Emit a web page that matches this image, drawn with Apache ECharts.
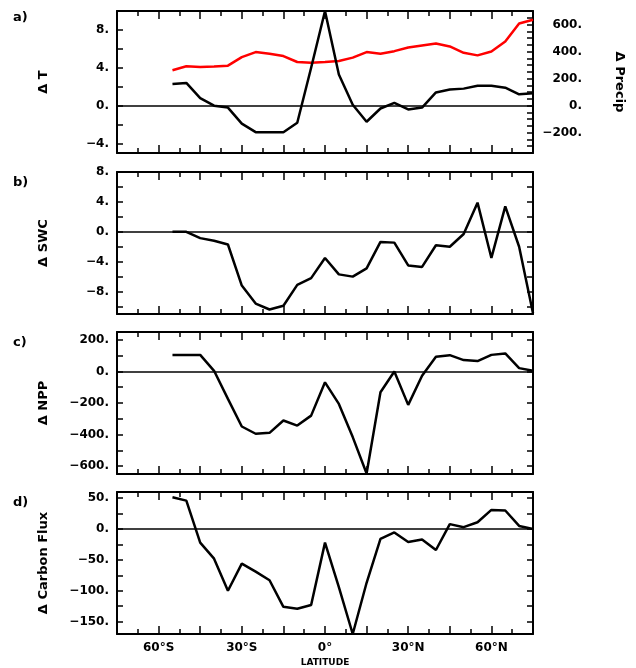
<!DOCTYPE html>
<html>
<head>
<meta charset="utf-8">
<script src="https://cdn.jsdelivr.net/npm/echarts@6/dist/echarts.min.js"></script>
<style>html,body{margin:0;padding:0;background:#fff}#main{width:636px;height:668px}</style>
</head>
<body>
<div id="main"></div>
<script>
// latitude of each point (deg, S negative)
var lat = [-55,-50,-45,-40,-35,-30,-25,-20,-15,-10,-5,0,5,10,15,20,25,30,35,40,45,50,55,60,65,70,75];
// a) temperature and precipitation change
var dT = [2.3,2.4,0.8,0.0,-0.2,-1.9,-2.8,-2.8,-2.8,-1.8,4.0,10.0,3.3,0.1,-1.7,-0.3,0.3,-0.4,-0.2,1.4,1.7,1.8,2.1,2.1,1.9,1.2,1.3];
var dPrecip = [262,291,286,289,296,359,396,384,367,323,318,323,330,355,396,384,403,430,445,460,438,391,372,401,474,608,635];
// b) soil water content
var dSWC = [0.0,0.0,-0.85,-1.2,-1.7,-7.2,-9.6,-10.4,-9.9,-7.1,-6.2,-3.5,-5.7,-6.0,-4.9,-1.35,-1.45,-4.5,-4.7,-1.8,-2.0,-0.3,3.9,-3.5,3.4,-2.0,-10.9];
// c) net primary production
var dNPP = [105,105,105,4,-174,-349,-395,-389,-311,-343,-280,-69,-206,-416,-647,-132,0,-212,-27,93,103,72,66,105,114,21,4];
// d) carbon flux
var dCarbon = [51.5,46,-22,-48,-100,-56,-69,-83,-126,-129,-123,-22,-94,-170,-87,-16,-5.5,-21,-17,-34,8,3,11,31,30,5,0];

// y axis ranges, tick and label values
var yRange = [[-5,10],[-11,8],[-650,250],[-170,60]];
var yTicks = [[-4,-2,0,2,4,6,8,10],[-10,-8,-6,-4,-2,0,2,4,6,8],[-600,-500,-400,-300,-200,-100,0,100,200],[-150,-125,-100,-75,-50,-25,0,25,50]];
var yLabels = [[-4,0,4,8],[-8,-4,0,4,8],[-600,-400,-200,0,200],[-150,-100,-50,0,50]];
var yNames = ['\u0394 T','\u0394 SWC','\u0394 NPP','\u0394 Carbon Flux'];
var panelNames = ['a)','b)','c)','d)'];
var precipTicks = [-350,-300,-250,-200,-150,-100,-50,0,50,100,150,200,250,300,350,400,450,500,550,600,650,700];
var precipLabels = [-200,0,200,400,600];
var latLabels = [-60,-30,0,30,60];

var tops = [11,172,332,492];
var myChart = echarts.init(document.getElementById('main'));

function pairs(y) {
    var out = [];
    for (var i = 0; i < lat.length; i++) out.push([lat[i], y[i]]);
    return out;
}
function numLabel(v) {
    return (v < 0 ? '\u2212' + (-v) : v) + '.';
}
function latLabel(v) {
    if (latLabels.indexOf(v) < 0) return '';
    if (v < 0) return (-v) + '\u00b0S';
    if (v > 0) return v + '\u00b0N';
    return '0\u00b0';
}
var lab = {color: '#000', fontFamily: 'DejaVu Sans', fontWeight: 'bold', fontSize: 12};
var frame = {show: true, onZero: false, lineStyle: {color: '#000', width: 2}};

function xAxis(g, pos, labels) {
    return {
        type: 'value', gridIndex: g, position: pos, min: -75, max: 75, interval: 15,
        axisLine: frame, splitLine: {show: false},
        axisTick: {inside: true, length: 8, lineStyle: {color: '#000', width: 1.5}},
        minorTick: {show: true, splitNumber: 2, length: 5, lineStyle: {color: '#000', width: 1.5}},
        axisLabel: labels ? Object.assign({margin: 8, formatter: latLabel}, lab) : {show: false},
        name: labels && g == 3 ? 'LATITUDE' : '', nameLocation: 'middle', nameGap: 24,
        nameTextStyle: {color: '#000', fontFamily: 'DejaVu Sans', fontWeight: 'bold', fontSize: 9}
    };
}
function yAxis(g, pos, min, max, ticks, labels, name, gap, rot) {
    return {
        type: 'value', gridIndex: g, position: pos, min: min, max: max,
        axisLine: frame, splitLine: {show: false},
        axisTick: {inside: true, length: 6, customValues: ticks, lineStyle: {color: '#000', width: 1.5}},
        axisLabel: labels ? Object.assign({customValues: labels, formatter: numLabel, margin: pos == 'right' ? 49 : 8, align: 'right'}, lab) : {show: false},
        name: name || '', nameLocation: 'middle', nameGap: gap || 0, nameRotate: rot,
        nameTextStyle: {color: '#000', fontFamily: 'DejaVu Sans', fontWeight: 'bold', fontSize: 13}
    };
}

var option = {
    backgroundColor: '#fff',
    animation: false,
    grid: [], xAxis: [], yAxis: [], series: [], graphic: []
};
var data = [dT, dSWC, dNPP, dCarbon];
for (var g = 0; g < 4; g++) {
    option.grid.push({left: 117, right: 103, top: tops[g], height: 142});
    option.xAxis.push(xAxis(g, 'bottom', g == 3));
    option.xAxis.push(xAxis(g, 'top', false));
    option.yAxis.push(yAxis(g, 'left', yRange[g][0], yRange[g][1], yTicks[g], yLabels[g], yNames[g], 67, 90));
    if (g == 0) {
        option.yAxis.push(yAxis(g, 'right', -350, 700, precipTicks, precipLabels, '\u0394 Precip', 80, -90));
    } else {
        option.yAxis.push(yAxis(g, 'right', yRange[g][0], yRange[g][1], yTicks[g], null));
    }
    option.series.push({
        type: 'line', xAxisIndex: 2 * g, yAxisIndex: 2 * g, data: pairs(data[g]),
        showSymbol: false, lineStyle: {color: '#000', width: 2.5}, z: 3,
        markLine: {
            silent: true, symbol: ['none', 'none'], label: {show: false},
            lineStyle: {color: '#000', width: 1.5, type: 'solid'},
            data: [{yAxis: 0}]
        }
    });
    option.graphic.push({
        type: 'text', left: 13, top: tops[g] + (g == 0 ? 0 : 4),
        style: {text: panelNames[g], fill: '#000', font: 'bold 13px "DejaVu Sans"'}
    });
}
option.series.push({
    type: 'line', xAxisIndex: 0, yAxisIndex: 1, data: pairs(dPrecip),
    showSymbol: false, lineStyle: {color: '#ff0000', width: 2.5}, z: 2
});

myChart.setOption(option);
</script>
</body>
</html>
